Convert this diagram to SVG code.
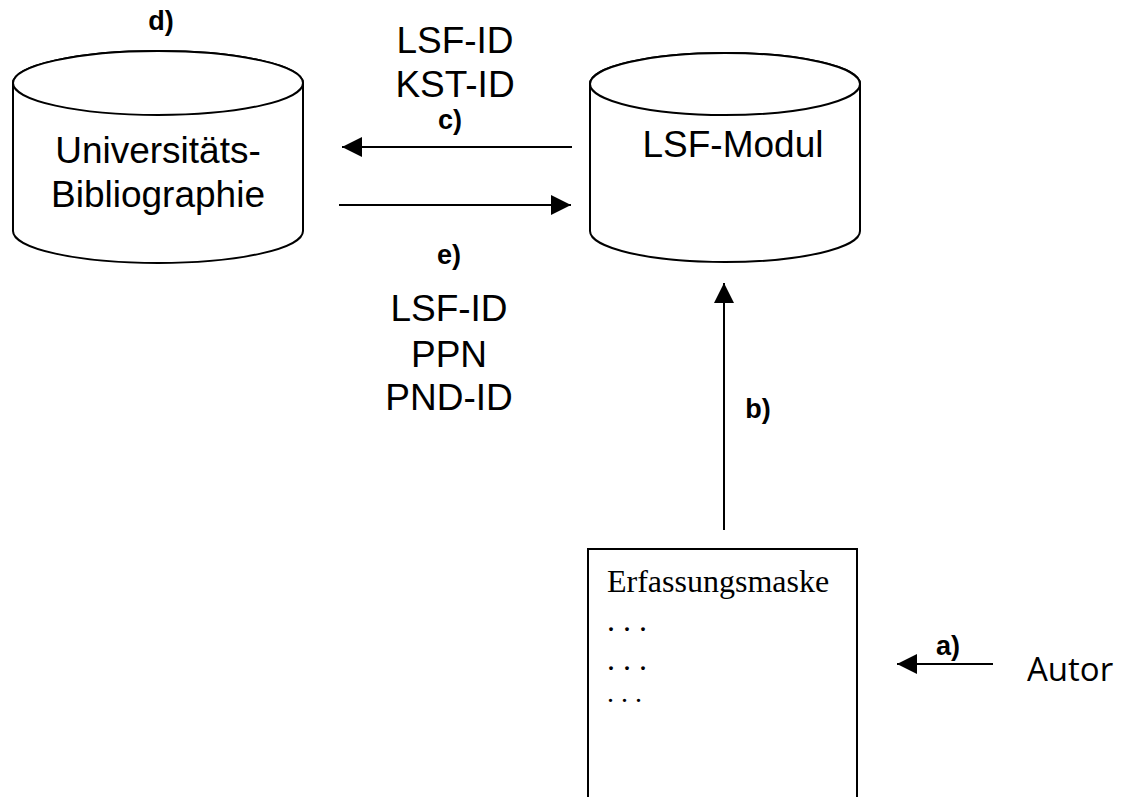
<svg xmlns="http://www.w3.org/2000/svg" width="1121" height="797" viewBox="0 0 1121 797">
<defs>
<style>
.shape{fill:#fff;stroke:#000;stroke-width:2}
.conn{stroke:#000;stroke-width:2;fill:none;marker-end:url(#ah)}
.lbl{font-family:"Liberation Sans",Arial,sans-serif;font-size:37px;fill:#000;text-anchor:middle}
.step{font-family:"Liberation Sans",Arial,sans-serif;font-size:27px;font-weight:bold;fill:#000;text-anchor:middle}
.serif{font-family:"Liberation Serif","Times New Roman",serif;font-size:32px;fill:#000}
</style>
<marker id="ah" markerUnits="userSpaceOnUse" markerWidth="20" markerHeight="20" refX="20" refY="10" orient="auto">
<path d="M0,0 L20,10 L0,20 Z" fill="#000"/>
</marker>
</defs>
<rect width="1121" height="797" fill="#fff"/>

<g id="universitaetsbibliographie">
<path class="shape" d="M13,83 A145,32 0 0 1 303,83 L303,231 A145,32 0 0 1 13,231 Z"/>
<ellipse class="shape" cx="158" cy="83" rx="145" ry="32"/>
<text class="lbl" x="158" y="163">Universitäts-</text>
<text class="lbl" x="158" y="207">Bibliographie</text>
</g>

<g id="lsf-modul">
<path class="shape" d="M590,84 A135,31 0 0 1 860,84 L860,231 A135,31 0 0 1 590,231 Z"/>
<ellipse class="shape" cx="725" cy="84" rx="135" ry="31"/>
<text class="lbl" x="733" y="157">LSF-Modul</text>
</g>

<g id="erfassungsmaske">
<rect class="shape" x="588" y="549" width="269" height="260"/>
<text class="serif" x="607" y="592">Erfassungsmaske</text>
<text class="serif" x="607" y="631">. . .</text>
<text class="serif" x="607" y="670">. . .</text>
<text class="serif" x="607" y="702" style="font-size:28px">. . .</text>
</g>

<g id="autor">
<text x="1027" y="681" style="font-family:'Open Sans','Liberation Sans',sans-serif;font-size:33px;fill:#000">Autor</text>
</g>

<g id="connectors">
<line class="conn" x1="993" y1="664" x2="897" y2="664"/>
<line class="conn" x1="724" y1="530" x2="724" y2="283"/>
<line class="conn" x1="572" y1="147" x2="342" y2="147"/>
<line class="conn" x1="339" y1="205" x2="571" y2="205"/>
</g>

<g id="labels">
<text class="step" x="161" y="30">d)</text>
<text class="lbl" x="455" y="53">LSF-ID</text>
<text class="lbl" x="455" y="97">KST-ID</text>
<text class="step" x="450" y="129">c)</text>
<text class="step" x="449" y="264">e)</text>
<text class="lbl" x="449" y="321">LSF-ID</text>
<text class="lbl" x="449" y="367">PPN</text>
<text class="lbl" x="449" y="410">PND-ID</text>
<text class="step" x="758" y="418">b)</text>
<text class="step" x="948" y="655">a)</text>
</g>
</svg>
